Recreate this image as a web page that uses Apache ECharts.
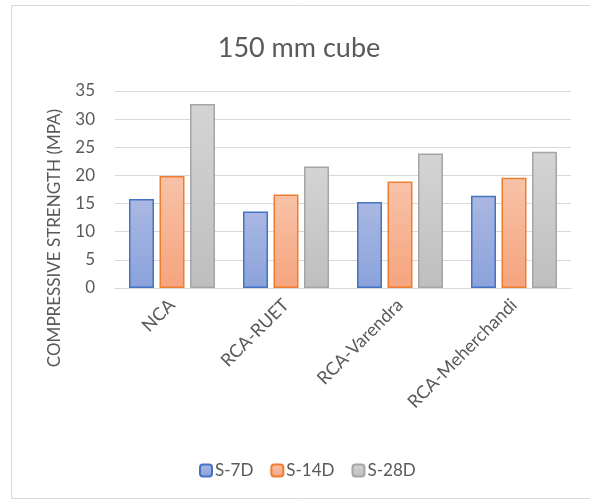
<!DOCTYPE html>
<html>
<head>
<meta charset="utf-8">
<script src="https://cdn.jsdelivr.net/npm/echarts@6/dist/echarts.min.js"></script>
<style>html,body{margin:0;padding:0;background:#fff}#c{width:590px;height:501px}</style>
</head>
<body>
<div id="c"></div>
<script>
const categories = ['NCA', 'RCA-RUET', 'RCA-Varendra', 'RCA-Meherchandi'];
const s7d = [15.8, 13.6, 15.3, 16.4];
const s14d = [19.9, 16.6, 18.9, 19.6];
const s28d = [32.7, 21.6, 23.9, 24.2];
const yTicks = { min: 0, max: 35, interval: 5 };

const FONT = 'Lato, "Open Sans", sans-serif';
function grad(top, bottom) {
  return new echarts.graphic.LinearGradient(0, 0, 0, 1, [
    { offset: 0, color: top }, { offset: 1, color: bottom }
  ]);
}
function bar(name, data, top, bottom, border) {
  return {
    name, type: 'bar', data, barWidth: 25, barGap: '22%',
    itemStyle: { color: grad(top, bottom), borderColor: border, borderWidth: 1.5 }
  };
}
const chart = echarts.init(document.getElementById('c'));
chart.setOption({
  animation: false,
  textStyle: { fontFamily: FONT },
  title: {
    text: '150 mm cube', left: 294, top: 30, textAlign: 'center',
    textStyle: { fontFamily: FONT, fontSize: 27, fontWeight: 'normal', color: '#595959' }
  },
  graphic: [{
    type: 'rect', shape: { x: 11.5, y: 5.5, width: 600, height: 493 },
    style: { fill: 'none', stroke: '#d9d9d9', lineWidth: 1 }, silent: true, z: -1
  }, {
    type: 'text', x: 55, y: 238, rotation: Math.PI / 2,
    style: {
      text: 'COMPRESSIVE STRENGTH (MPA)', fill: '#595959',
      font: '17px ' + FONT, align: 'center', verticalAlign: 'middle'
    }
  }],
  legend: {
    top: 457, left: 194, itemWidth: 12, itemHeight: 12, itemGap: 17,
    textStyle: { fontFamily: FONT, fontSize: 17, color: '#595959', padding: [0, 0, 0, -2] },
    data: ['S-7D', 'S-14D', 'S-28D']
  },
  grid: { left: 115, right: 19, top: 91, bottom: 213 },
  xAxis: {
    type: 'category', data: categories,
    axisLine: { lineStyle: { color: '#d9d9d9' } },
    axisTick: { show: false },
    axisLabel: { rotate: 45, fontSize: 18, color: '#595959', fontFamily: FONT, margin: 14, interval: 0 }
  },
  yAxis: {
    type: 'value', min: yTicks.min, max: yTicks.max, interval: yTicks.interval,
    axisLine: { show: false }, axisTick: { show: false },
    axisLabel: { fontSize: 17, color: '#595959', fontFamily: FONT, margin: 20 },
    splitLine: { lineStyle: { color: '#d9d9d9', width: 1 } }
  },
  series: [
    bar('S-7D', s7d, '#aab8e2', '#8aa2db', '#4472c4'),
    bar('S-14D', s14d, '#f8c2a8', '#f5a47d', '#ed7d31'),
    bar('S-28D', s28d, '#d4d4d4', '#bebebe', '#a5a5a5')
  ]
});
</script>
</body>
</html>
